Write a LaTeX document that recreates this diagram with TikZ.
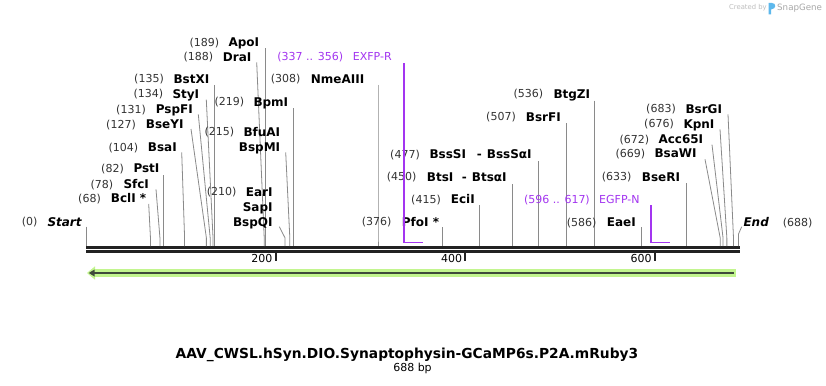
\documentclass[tikz,border=0pt]{standalone}
\usepackage{fontspec}
\setmainfont{DejaVu Sans}
\definecolor{numc}{HTML}{333333}
\definecolor{sitec}{HTML}{8A8A8A}
\definecolor{primc}{HTML}{A335F0}
\definecolor{grn}{HTML}{C2F58E}
\definecolor{seqc}{HTML}{222222}
\definecolor{arrc}{HTML}{3F4A3A}
\definecolor{logoc}{HTML}{A8A8A8}
\definecolor{logob}{HTML}{5DB8EC}
\tikzset{
  num/.style={font=\fontsize{11}{13}\selectfont, text=numc, inner sep=0pt, text height=8.0pt, text depth=0pt},
  enzn/.style={font=\fontsize{12}{14}\selectfont\bfseries, inner sep=0pt, text height=8.7pt, text depth=0pt},
  prim/.style={font=\fontsize{11}{13}\selectfont, text=primc, inner sep=0pt, text height=8.0pt, text depth=0pt},
  site/.style={draw=sitec, line width=0.8pt},
  primline/.style={draw=primc, line width=1.8pt},
  tickl/.style={font=\fontsize{11}{13}\selectfont, inner sep=0pt, text height=8.0pt, text depth=0pt},
}
% #1 id, #2 y, #3 number right x, #4 number, #5 name left x, #6 name, #7 top x, #8 top y, #9 position
\newcommand\enz[9]{%
  \node[num,anchor=east] (n#1) at (#3,#2) {#4};
  \node[enzn,anchor=west] (#1) at (#5,#2) {#6};
  \coordinate (t#1) at (#7,#8);
  \coordinate (m#1) at ({86+0.948*#9},238);
  \coordinate (b#1) at ({86+0.948*#9},246);
  \draw[site] (t#1) -- (m#1) -- (b#1);}
\begin{document}
\begin{tikzpicture}[x=1pt,y=-1pt]
\useasboundingbox (0,0) rectangle (826,385);
\fill[white] (0,0) rectangle (826,385);

% logo
\node[inner sep=0pt, anchor=west, text=logoc!75, font=\fontsize{6.8}{8}\selectfont] (created) at (729,8) {Created by};
\fill[logob] (768.5,14.5) -- (768.5,3) -- (772,3) .. controls (776.5,3) and (776.5,9) .. (771,9.5) -- (771,14.5) -- cycle;
\node[inner sep=0pt, anchor=west, text=logoc, font=\fontsize{8.7}{10}\selectfont] (snapgene) at (777,8) {SnapGene};

% sequence
\fill[seqc] (86,246) rectangle (740,249);
\fill[seqc] (86,250) rectangle (740,253);

% ticks
\foreach \p in {200,400,600}{
  \draw[line width=2pt, seqc] ({86+0.948*\p},253) -- ({86+0.948*\p},261);
  \node[tickl, anchor=east] (tick\p) at ({86+0.948*\p-3},258.5) {\p};
}

% feature arrow
\fill[grn] (95,269.3) rectangle (736,276.7);
\fill[grn] (95,266.3) -- (87,273) -- (95,279.7) -- cycle;
\draw[arrc, line width=2.6pt] (93,273) -- (734,273);
\fill[arrc] (94.5,269.5) -- (88.8,273) -- (94.5,276.5) -- cycle;

% Start / End
\node[num,anchor=east] (nStart) at (37.7,221.7) {(0)};
\node[enzn,anchor=west,font=\fontsize{12}{14}\selectfont\bfseries\itshape] (Start) at (47.3,221.7) {Start};
\coordinate (tStart) at (86.5,226.7);
\coordinate (bStart) at (86.5,246);
\draw[site] (tStart) -- (bStart);

\node[enzn,anchor=west,font=\fontsize{12}{14}\selectfont\bfseries\itshape] (End) at (743.3,222.3) {End};
\node[num,anchor=west] (nEnd) at (782.7,222.3) {(688)};
\coordinate (tEnd) at (741.7,226.7);
\coordinate (mEnd) at (738.5,234);
\coordinate (bEnd) at (738.5,246);
\draw[site] (tEnd) -- (mEnd) -- (bEnd);

% enzymes
\enz{BclI}{198.3}{101}{(68)}{110.7}{BclI *}{148.7}{204}{68}
\enz{SfcI}{184}{113.3}{(78)}{123.3}{SfcI}{156}{189.3}{78}
\enz{PstI}{168.3}{124}{(82)}{133.3}{PstI}{{86+0.948*82}}{175}{82}
\enz{BsaI}{147.3}{138.3}{(104)}{147.7}{BsaI}{181.7}{152.3}{104}
\enz{BseYI}{124.3}{136}{(127)}{145.7}{BseYI}{191}{129}{127}
\enz{PspFI}{109.3}{146}{(131)}{155.7}{PspFI}{198.3}{114.3}{131}
\enz{StyI}{94}{163.3}{(134)}{172.3}{StyI}{206.3}{99.7}{134}
\enz{BstXI}{79}{164}{(135)}{173.3}{BstXI}{{86+0.948*135}}{85}{135}
\enz{DraI}{56.7}{213.3}{(188)}{222.7}{DraI}{256.7}{62.3}{188}
\enz{ApoI}{42.3}{219.3}{(189)}{228.3}{ApoI}{{86+0.948*189}}{48.3}{189}
\enz{BpmI}{102}{244.3}{(219)}{253.3}{BpmI}{{86+0.948*219}}{108.3}{219}
\enz{BfuAI}{131.7}{234.3}{(215)}{243.3}{BfuAI}{285.7}{152.3}{215}
\node[enzn,anchor=east] (BspMI) at (BfuAI.east |- 0,146.7) {BspMI};
\enz{EarI}{191.7}{236.7}{(210)}{245.7}{EarI}{279.3}{226.7}{210}
\node[enzn,anchor=east] (SapI) at (EarI.east |- 0,206.7) {SapI};
\node[enzn,anchor=east] (BspQI) at (EarI.east |- 0,221.7) {BspQI};
\enz{NmeAIII}{79}{300.7}{(308)}{310.7}{NmeAIII}{{86+0.948*308}}{85}{308}
\enz{PfoI}{221.7}{391.7}{(376)}{401.7}{PfoI *}{{86+0.948*376}}{227.3}{376}
\enz{EciI}{199}{441}{(415)}{450.7}{EciI}{{86+0.948*415}}{205}{415}
\enz{BtsI}{176.7}{416.7}{(450)}{426.7}{BtsI}{{86+0.948*450}}{184}{450}
\node[enzn] (BtsIdash) at (464.3,176.7) {-};
\node[enzn,anchor=west] (BtsaI) at (471.7,176.7) {BtsαI};
\enz{BssSI}{154}{420}{(477)}{429.3}{BssSI}{{86+0.948*477}}{161}{477}
\node[enzn] (BssSIdash) at (479.3,154) {-};
\node[enzn,anchor=west] (BssSaI) at (486.7,154) {BssSαI};
\enz{BtgZI}{94}{543.3}{(536)}{553.3}{BtgZI}{{86+0.948*536}}{100.7}{536}
\enz{BsrFI}{116.7}{516}{(507)}{525.7}{BsrFI}{{86+0.948*507}}{123.3}{507}
\enz{EaeI}{222.3}{596.7}{(586)}{606.7}{EaeI}{{86+0.948*586}}{227.3}{586}
\enz{BseRI}{176.7}{631.7}{(633)}{641.7}{BseRI}{{86+0.948*633}}{183.3}{633}
\enz{BsaWI}{153.3}{645.3}{(669)}{654.3}{BsaWI}{705}{159.3}{669}
\enz{AccI}{139}{649.3}{(672)}{658.3}{Acc65I}{712}{144.7}{672}
\enz{KpnI}{124}{674}{(676)}{683.3}{KpnI}{720}{129.3}{676}
\enz{BsrGI}{109}{676}{(683)}{685.3}{BsrGI}{728}{114.3}{683}

% primers
\node[prim,anchor=east] (nEXFP) at (343.3,56.7) {(337 .. 356)};
\node[prim,anchor=west] (EXFP) at (352.7,56.7) {EXFP-R};
\coordinate (tEXFP) at (404.3,63.3);
\coordinate (cEXFP) at (404.3,242.5);
\coordinate (eEXFP) at (422.7,242.5);
\draw[primline] (tEXFP) -- (cEXFP) -- (eEXFP);

\node[prim,anchor=east] (nEGFP) at (590,199) {(596 .. 617)};
\node[prim,anchor=west] (EGFP) at (599,199) {EGFP-N};
\coordinate (tEGFP) at (650.7,205);
\coordinate (cEGFP) at (650.7,242.5);
\coordinate (eEGFP) at (670,242.5);
\draw[primline] (tEGFP) -- (cEGFP) -- (eEGFP);

% title
\node[inner sep=0pt, font=\fontsize{13.8}{16}\selectfont\bfseries] (title) at (407,355) {AAV\_CWSL.hSyn.DIO.Synaptophysin-GCaMP6s.P2A.mRuby3};
\node[inner sep=0pt, font=\fontsize{11}{13}\selectfont] (bp) at (412.5,368) {688 bp};
\end{tikzpicture}
\end{document}
